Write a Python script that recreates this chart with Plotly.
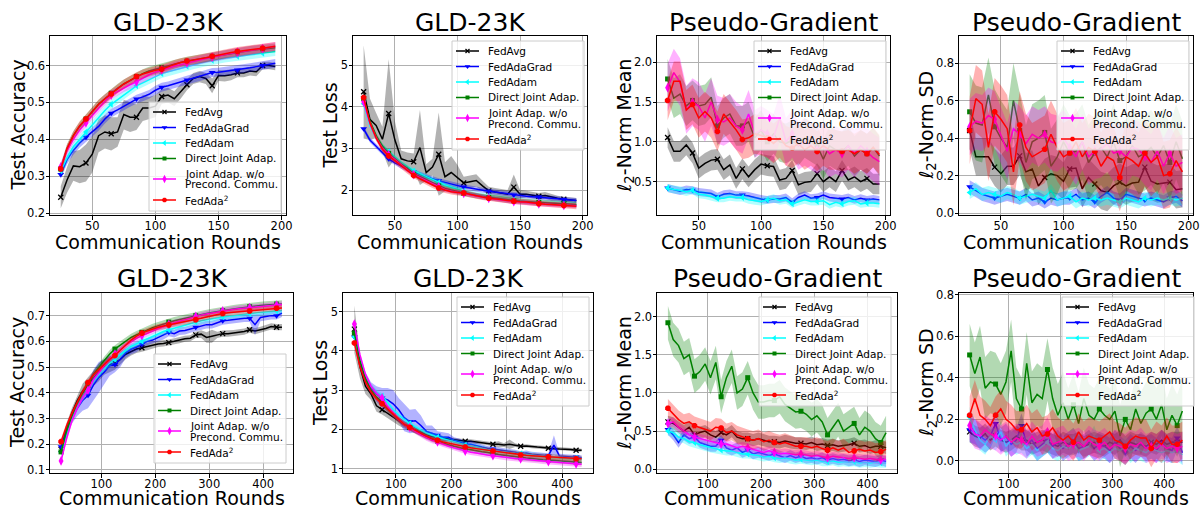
import plotly.graph_objects as go

W, H = 1201, 507

# communication rounds (x values)
rounds_200 = [25, 30, 35, 40, 45, 50, 55, 60, 65, 70, 75, 80, 85, 90, 95, 100, 105, 110, 115, 120,
              125, 130, 135, 140, 145, 150, 155, 160, 165, 170, 175, 180, 185, 190, 195]
rounds_450 = [25, 35, 45, 55, 65, 75, 85, 95, 105, 115, 125, 135, 145, 155, 165, 175, 185, 195, 205, 215,
              225, 235, 245, 255, 265, 275, 285, 295, 305, 315, 325, 335, 345, 355, 365, 375, 385, 395,
              405, 415, 425, 435]

methods = ['avg', 'adagrad', 'adam', 'direct', 'joint', 'ada2']
method_names = ['FedAvg', 'FedAdaGrad', 'FedAdam', 'Direct Joint Adap.',
                ['Joint Adap. w/o', 'Precond. Commu.'], 'FedAda<sup>2</sup>']

# ---- top row: test accuracy ----
acc1_avg = [0.243, 0.29, 0.328, 0.326, 0.336, 0.36, 0.41, 0.42, 0.415, 0.42, 0.467, 0.46, 0.46, 0.485, 0.485,
            0.49, 0.516, 0.52, 0.51, 0.53, 0.548, 0.565, 0.57, 0.565, 0.545, 0.573, 0.572, 0.575, 0.58, 0.58,
            0.585, 0.583, 0.6, 0.6, 0.597]
acc1_adagrad = [0.305, 0.345, 0.37, 0.39, 0.406, 0.42, 0.435, 0.455, 0.471, 0.48, 0.49, 0.5, 0.509, 0.515, 0.522,
                0.533, 0.541, 0.545, 0.55, 0.555, 0.561, 0.566, 0.57, 0.575, 0.581, 0.582, 0.584, 0.586, 0.588,
                0.59, 0.594, 0.597, 0.6, 0.603, 0.606]
acc1_adam = [0.315, 0.35, 0.38, 0.4, 0.42, 0.44, 0.46, 0.478, 0.495, 0.508, 0.52, 0.533, 0.545, 0.553, 0.562,
             0.57, 0.578, 0.583, 0.588, 0.593, 0.598, 0.602, 0.606, 0.61, 0.614, 0.617, 0.62, 0.622, 0.625,
             0.627, 0.629, 0.631, 0.633, 0.636, 0.638]
acc1_direct = [0.32, 0.375, 0.41, 0.435, 0.455, 0.475, 0.495, 0.51, 0.525, 0.538, 0.55, 0.56, 0.57, 0.578, 0.585,
               0.59, 0.595, 0.6, 0.604, 0.608, 0.612, 0.615, 0.618, 0.622, 0.625, 0.628, 0.631, 0.634, 0.637,
               0.639, 0.641, 0.643, 0.645, 0.647, 0.648]
acc1_joint = [0.325, 0.37, 0.4, 0.425, 0.445, 0.465, 0.485, 0.503, 0.52, 0.53, 0.54, 0.548, 0.556, 0.566, 0.575,
              0.582, 0.588, 0.593, 0.598, 0.602, 0.607, 0.611, 0.615, 0.619, 0.623, 0.626, 0.629, 0.633, 0.636,
              0.638, 0.64, 0.643, 0.646, 0.649, 0.652]
acc1_ada2 = [0.32, 0.375, 0.41, 0.437, 0.455, 0.476, 0.495, 0.51, 0.523, 0.537, 0.55, 0.56, 0.57, 0.577, 0.583,
             0.587, 0.59, 0.597, 0.603, 0.608, 0.612, 0.615, 0.618, 0.621, 0.625, 0.628, 0.632, 0.635, 0.638,
             0.641, 0.643, 0.645, 0.647, 0.65, 0.652]
acc1_avg_sd = [0.03, 0.035, 0.04, 0.045, 0.05, 0.05, 0.045, 0.045, 0.045, 0.04, 0.04, 0.04, 0.035, 0.035, 0.03,
               0.03, 0.02, 0.02, 0.02, 0.02, 0.015, 0.015, 0.015, 0.015, 0.02, 0.015, 0.015, 0.015, 0.012,
               0.012, 0.012, 0.012, 0.01, 0.01, 0.01]
acc1_sd = {'avg': acc1_avg_sd, 'adagrad': 0.012, 'adam': 0.012, 'direct': 0.012, 'joint': 0.012, 'ada2': 0.012}

# ---- top row: test loss ----
loss1_avg = [4.36, 3.7, 3.55, 3.22, 3.84, 3.2, 2.75, 2.7, 2.68, 3.02, 2.42, 2.55, 2.86, 2.32, 2.42, 2.3, 2.17,
             2.2, 2.23, 2.1, 1.98, 1.95, 1.92, 1.9, 2.07, 1.9, 1.9, 1.88, 1.85, 1.87, 1.83, 1.8, 1.78, 1.76, 1.75]
loss1_adagrad = [3.47, 3.2, 3.05, 2.9, 2.75, 2.65, 2.57, 2.5, 2.43, 2.38, 2.32, 2.27, 2.22, 2.18, 2.14, 2.1,
                 2.07, 2.05, 2.02, 1.99, 1.97, 1.95, 1.93, 1.91, 1.88, 1.87, 1.85, 1.84, 1.83, 1.81, 1.8, 1.79,
                 1.77, 1.76, 1.75]
loss1_adam = [4.07, 3.55, 3.25, 3.05, 2.92, 2.78, 2.65, 2.55, 2.46, 2.39, 2.32, 2.25, 2.18, 2.12, 2.07, 2.02,
              1.97, 1.93, 1.9, 1.87, 1.84, 1.82, 1.8, 1.78, 1.76, 1.74, 1.73, 1.71, 1.7, 1.69, 1.68, 1.67, 1.66,
              1.65, 1.64]
loss1_direct = [4.2, 3.65, 3.3, 3.05, 2.88, 2.74, 2.62, 2.52, 2.38, 2.32, 2.25, 2.17, 2.1, 2.04, 2.0, 1.96,
                1.92, 1.89, 1.86, 1.84, 1.82, 1.8, 1.78, 1.76, 1.74, 1.73, 1.72, 1.71, 1.7, 1.69, 1.68, 1.67,
                1.66, 1.655, 1.65]
loss1_joint = [4.12, 3.6, 3.25, 3.0, 2.85, 2.72, 2.6, 2.48, 2.37, 2.3, 2.23, 2.15, 2.08, 2.01, 1.97, 1.94,
               1.92, 1.89, 1.86, 1.83, 1.8, 1.78, 1.76, 1.74, 1.72, 1.71, 1.7, 1.68, 1.67, 1.66, 1.65, 1.64,
               1.63, 1.625, 1.62]
loss1_ada2 = [4.22, 3.62, 3.25, 2.98, 2.82, 2.7, 2.58, 2.46, 2.35, 2.27, 2.2, 2.12, 2.05, 2.0, 1.96, 1.94, 1.93,
              1.9, 1.86, 1.83, 1.8, 1.79, 1.77, 1.75, 1.73, 1.72, 1.71, 1.69, 1.67, 1.66, 1.65, 1.64, 1.63, 1.62,
              1.61]
loss1_avg_sd = [1.12, 0.5, 0.3, 0.3, 1.3, 0.45, 0.2, 0.2, 0.2, 0.9, 0.2, 0.2, 1.0, 0.35, 0.4, 0.3, 0.15, 0.15,
                0.15, 0.12, 0.1, 0.1, 0.1, 0.1, 0.3, 0.1, 0.08, 0.08, 0.08, 0.08, 0.08, 0.06, 0.06, 0.06, 0.06]
loss1_sd = {'avg': loss1_avg_sd, 'adagrad': 0.06, 'adam': 0.06, 'direct': 0.07, 'joint': 0.06, 'ada2': 0.07}

# ---- top row: pseudo-gradient l2-norm mean ----
mean1_avg = [1.054, 0.88, 0.88, 0.96, 0.86, 0.67, 0.73, 0.77, 0.78, 0.65, 0.71, 0.54, 0.66, 0.56, 0.65, 0.72,
             0.70, 0.69, 0.52, 0.54, 0.64, 0.46, 0.49, 0.5, 0.6, 0.5, 0.56, 0.5, 0.64, 0.52, 0.56, 0.5, 0.54,
             0.47, 0.47]
mean1_adagrad = [0.42, 0.4, 0.38, 0.4, 0.39, 0.37, 0.36, 0.35, 0.31, 0.34, 0.35, 0.33, 0.33, 0.32, 0.3, 0.28,
                 0.27, 0.28, 0.28, 0.3, 0.24, 0.3, 0.33, 0.29, 0.3, 0.33, 0.3, 0.29, 0.28, 0.3, 0.27, 0.29, 0.27,
                 0.28, 0.27]
mean1_adam = [0.42, 0.4, 0.39, 0.37, 0.39, 0.34, 0.33, 0.31, 0.29, 0.29, 0.31, 0.3, 0.3, 0.27, 0.26, 0.25, 0.27,
              0.29, 0.26, 0.27, 0.22, 0.25, 0.27, 0.25, 0.25, 0.26, 0.21, 0.24, 0.22, 0.25, 0.26, 0.22, 0.23,
              0.23, 0.22]
mean1_direct = [1.79, 1.55, 1.6, 1.45, 1.52, 1.45, 1.47, 1.56, 1.2, 1.3, 1.35, 1.2, 1.2, 1.25, 1.05, 1.15, 1.0,
                1.1, 1.0, 0.98, 1.02, 0.95, 1.05, 1.0, 0.95, 0.78, 0.95, 0.9, 0.88, 0.95, 0.82, 0.9, 0.85,
                0.93, 0.82]
mean1_joint = [1.68, 1.87, 1.75, 1.4, 1.5, 1.45, 1.3, 1.5, 1.28, 1.25, 1.3, 1.2, 1.15, 1.35, 1.1, 1.15, 1.1,
               1.05, 1.3, 1.0, 1.1, 0.95, 1.0, 0.95, 0.9, 0.95, 0.85, 0.9, 0.85, 0.95, 0.85, 0.95, 0.88, 0.8,
               0.75]
mean1_ada2 = [1.52, 1.76, 1.76, 1.4, 1.47, 1.3, 1.38, 1.3, 1.13, 1.35, 1.25, 1.15, 1.03, 1.05, 1.1, 1.08, 1.05,
              0.98, 1.05, 0.95, 0.92, 0.98, 0.9, 0.95, 0.88, 0.95, 0.9, 0.9, 0.88, 0.9, 0.85, 0.9, 0.85, 0.93,
              0.84]
mean1_sd = {'avg': 0.13, 'adagrad': 0.05, 'adam': 0.05, 'direct': 0.25, 'joint': 0.3, 'ada2': 0.25}

# ---- top row: pseudo-gradient l2-norm SD ----
sd1_avg = [0.44, 0.3, 0.3, 0.3, 0.245, 0.21, 0.25, 0.25, 0.305, 0.22, 0.235, 0.145, 0.19, 0.21, 0.2, 0.17,
           0.235, 0.24, 0.13, 0.19, 0.155, 0.12, 0.11, 0.145, 0.165, 0.145, 0.16, 0.165, 0.245, 0.17, 0.155,
           0.16, 0.165, 0.125, 0.13]
sd1_adagrad = [0.14, 0.12, 0.1, 0.09, 0.08, 0.09, 0.1, 0.09, 0.08, 0.1, 0.07, 0.08, 0.06, 0.08, 0.07, 0.08,
               0.08, 0.1, 0.07, 0.08, 0.06, 0.09, 0.11, 0.08, 0.07, 0.1, 0.09, 0.08, 0.07, 0.08, 0.07, 0.06,
               0.08, 0.09, 0.065]
sd1_adam = [0.11, 0.13, 0.1, 0.11, 0.1, 0.09, 0.11, 0.1, 0.08, 0.09, 0.1, 0.09, 0.08, 0.12, 0.07, 0.08, 0.09,
            0.06, 0.08, 0.07, 0.08, 0.07, 0.08, 0.07, 0.06, 0.08, 0.07, 0.06, 0.08, 0.07, 0.08, 0.07, 0.08,
            0.07, 0.08]
sd1_direct = [0.54, 0.48, 0.47, 0.63, 0.46, 0.4, 0.35, 0.6, 0.44, 0.27, 0.38, 0.4, 0.43, 0.25, 0.3, 0.38, 0.32,
              0.33, 0.38, 0.27, 0.32, 0.35, 0.3, 0.38, 0.28, 0.3, 0.36, 0.3, 0.32, 0.35, 0.3, 0.36, 0.27, 0.38,
              0.29]
sd1_joint = [0.46, 0.49, 0.48, 0.52, 0.5, 0.42, 0.33, 0.45, 0.42, 0.37, 0.42, 0.4, 0.42, 0.38, 0.37, 0.4, 0.35,
             0.3, 0.38, 0.3, 0.33, 0.34, 0.37, 0.32, 0.33, 0.3, 0.35, 0.34, 0.3, 0.27, 0.33, 0.25, 0.32, 0.25,
             0.27]
sd1_ada2 = [0.44, 0.61, 0.58, 0.35, 0.54, 0.5, 0.45, 0.22, 0.47, 0.35, 0.3, 0.32, 0.34, 0.42, 0.35, 0.3, 0.32,
            0.38, 0.3, 0.35, 0.33, 0.25, 0.3, 0.28, 0.19, 0.3, 0.28, 0.25, 0.32, 0.27, 0.3, 0.2, 0.21, 0.28,
            0.22]
sd1_sd = {'avg': 0.1, 'adagrad': 0.035, 'adam': 0.035, 'direct': 0.2, 'joint': 0.15, 'ada2': 0.18}

# ---- bottom row: test accuracy ----
acc2_avg = [0.18, 0.26, 0.32, 0.37, 0.405, 0.43, 0.455, 0.48, 0.5, 0.51, 0.515, 0.53, 0.55, 0.56, 0.57, 0.575,
            0.58, 0.585, 0.59, 0.592, 0.595, 0.6, 0.605, 0.61, 0.612, 0.625, 0.628, 0.615, 0.62, 0.625, 0.63,
            0.63, 0.632, 0.635, 0.638, 0.645, 0.64, 0.645, 0.65, 0.658, 0.655, 0.655]
acc2_adagrad = [0.19, 0.25, 0.3, 0.34, 0.37, 0.39, 0.43, 0.46, 0.48, 0.505, 0.51, 0.53, 0.555, 0.57, 0.578, 0.59,
                0.6, 0.605, 0.615, 0.622, 0.635, 0.63, 0.64, 0.642, 0.648, 0.655, 0.66, 0.665, 0.665, 0.672,
                0.68, 0.682, 0.685, 0.688, 0.69, 0.69, 0.665, 0.693, 0.697, 0.7, 0.7, 0.71]
acc2_adam = [0.17, 0.24, 0.3, 0.345, 0.38, 0.41, 0.445, 0.47, 0.495, 0.515, 0.53, 0.548, 0.565, 0.58, 0.59, 0.6,
             0.61, 0.62, 0.63, 0.638, 0.645, 0.651, 0.657, 0.663, 0.67, 0.675, 0.68, 0.684, 0.688, 0.692, 0.695,
             0.698, 0.7, 0.703, 0.705, 0.708, 0.71, 0.712, 0.714, 0.716, 0.718, 0.72]
acc2_direct = [0.17, 0.25, 0.31, 0.36, 0.4, 0.43, 0.47, 0.5, 0.525, 0.55, 0.57, 0.585, 0.6, 0.615, 0.625, 0.635,
               0.645, 0.653, 0.66, 0.667, 0.675, 0.68, 0.685, 0.69, 0.695, 0.7, 0.705, 0.708, 0.712, 0.716, 0.72,
               0.723, 0.726, 0.729, 0.732, 0.735, 0.737, 0.739, 0.741, 0.743, 0.745, 0.745]
acc2_joint = [0.135, 0.22, 0.29, 0.34, 0.38, 0.41, 0.45, 0.48, 0.505, 0.53, 0.55, 0.568, 0.585, 0.6, 0.612, 0.622,
              0.632, 0.642, 0.65, 0.658, 0.666, 0.672, 0.678, 0.684, 0.69, 0.697, 0.702, 0.706, 0.71, 0.714,
              0.718, 0.721, 0.724, 0.727, 0.729, 0.731, 0.733, 0.735, 0.737, 0.739, 0.741, 0.743]
acc2_ada2 = [0.21, 0.27, 0.32, 0.365, 0.405, 0.44, 0.47, 0.49, 0.51, 0.53, 0.545, 0.565, 0.585, 0.605, 0.62,
             0.632, 0.64, 0.648, 0.655, 0.66, 0.664, 0.668, 0.672, 0.676, 0.68, 0.684, 0.69, 0.695, 0.7, 0.704,
             0.708, 0.711, 0.713, 0.715, 0.717, 0.718, 0.721, 0.723, 0.725, 0.727, 0.729, 0.73]
acc2_avg_sd = [0.02, 0.02, 0.02, 0.02, 0.03, 0.03, 0.03, 0.035, 0.03, 0.03, 0.025, 0.02, 0.02, 0.015, 0.015,
               0.015, 0.015, 0.015, 0.012, 0.012, 0.012, 0.012, 0.012, 0.012, 0.012, 0.012, 0.015, 0.02, 0.025,
               0.012, 0.012, 0.012, 0.012, 0.012, 0.012, 0.012, 0.012, 0.012, 0.012, 0.012, 0.012, 0.012]
acc2_adagrad_sd = [0.02, 0.02, 0.02, 0.03, 0.04, 0.05, 0.06, 0.06, 0.05, 0.04, 0.03, 0.03, 0.02, 0.02, 0.02,
                   0.015, 0.015, 0.015, 0.015, 0.015, 0.015, 0.015, 0.015, 0.015, 0.015, 0.015, 0.015, 0.015,
                   0.015, 0.015, 0.015, 0.015, 0.015, 0.015, 0.015, 0.015, 0.04, 0.015, 0.015, 0.015, 0.015, 0.015]
acc2_sd = {'avg': acc2_avg_sd, 'adagrad': acc2_adagrad_sd, 'adam': 0.012, 'direct': 0.015, 'joint': 0.012,
           'ada2': 0.012}

# ---- bottom row: test loss ----
loss2_avg = [4.55, 3.6, 3.1, 2.9, 2.6, 2.5, 2.4, 2.3, 2.2, 2.12, 2.05, 1.98, 1.92, 1.86, 1.82, 1.8, 1.77, 1.75,
             1.73, 1.72, 1.7, 1.7, 1.68, 1.67, 1.65, 1.62, 1.62, 1.6, 1.62, 1.6, 1.57, 1.58, 1.56, 1.55, 1.54,
             1.52, 1.51, 1.5, 1.5, 1.49, 1.47, 1.47]
loss2_adagrad = [4.35, 3.75, 3.3, 3.05, 2.9, 2.8, 2.75, 2.65, 2.5, 2.3, 2.2, 2.22, 2.1, 1.95, 1.9, 1.85, 1.8,
                 1.8, 1.72, 1.68, 1.62, 1.62, 1.58, 1.55, 1.52, 1.5, 1.48, 1.46, 1.44, 1.42, 1.38, 1.4, 1.37,
                 1.36, 1.35, 1.33, 1.6, 1.32, 1.31, 1.3, 1.3, 1.28]
loss2_adam = [4.35, 3.8, 3.35, 3.1, 2.95, 2.85, 2.68, 2.5, 2.36, 2.25, 2.15, 2.06, 1.98, 1.9, 1.85, 1.8, 1.76,
              1.72, 1.68, 1.64, 1.6, 1.57, 1.55, 1.52, 1.49, 1.45, 1.44, 1.42, 1.41, 1.39, 1.38, 1.36, 1.35, 1.33,
              1.32, 1.3, 1.3, 1.29, 1.28, 1.27, 1.27, 1.25]
loss2_direct = [4.45, 3.75, 3.3, 3.0, 2.82, 2.7, 2.52, 2.38, 2.24, 2.13, 2.05, 1.96, 1.88, 1.81, 1.75, 1.7, 1.65,
                1.61, 1.57, 1.53, 1.5, 1.48, 1.45, 1.43, 1.41, 1.38, 1.36, 1.34, 1.32, 1.3, 1.28, 1.27, 1.26,
                1.24, 1.23, 1.22, 1.21, 1.2, 1.19, 1.18, 1.17, 1.16]
loss2_joint = [4.68, 3.9, 3.4, 3.1, 2.92, 2.8, 2.58, 2.4, 2.25, 2.13, 2.05, 1.95, 1.86, 1.78, 1.72, 1.68, 1.62,
               1.57, 1.53, 1.49, 1.45, 1.42, 1.4, 1.37, 1.35, 1.33, 1.31, 1.29, 1.27, 1.26, 1.25, 1.23, 1.22,
               1.21, 1.19, 1.18, 1.17, 1.16, 1.15, 1.14, 1.12, 1.11]
loss2_ada2 = [4.2, 3.6, 3.2, 2.95, 2.78, 2.65, 2.5, 2.38, 2.24, 2.13, 2.05, 1.97, 1.9, 1.83, 1.77, 1.72, 1.68,
              1.65, 1.62, 1.58, 1.55, 1.53, 1.51, 1.49, 1.47, 1.45, 1.43, 1.41, 1.39, 1.37, 1.35, 1.34, 1.33,
              1.32, 1.31, 1.3, 1.29, 1.28, 1.27, 1.26, 1.25, 1.25]
loss2_avg_sd = [0.6, 0.3, 0.2, 0.15, 0.15, 0.12, 0.1, 0.1, 0.1, 0.1, 0.1, 0.08, 0.08, 0.1, 0.08, 0.06, 0.06,
                0.05, 0.05, 0.05, 0.05, 0.05, 0.05, 0.05, 0.05, 0.05, 0.08, 0.05, 0.12, 0.05, 0.04, 0.04, 0.04,
                0.04, 0.04, 0.04, 0.04, 0.04, 0.04, 0.04, 0.04, 0.04]
loss2_adagrad_sd = [0.15, 0.15, 0.15, 0.15, 0.2, 0.25, 0.3, 0.35, 0.3, 0.35, 0.3, 0.3, 0.25, 0.15, 0.2, 0.1,
                    0.12, 0.1, 0.08, 0.08, 0.08, 0.1, 0.08, 0.06, 0.06, 0.06, 0.06, 0.06, 0.06, 0.06, 0.06, 0.06,
                    0.06, 0.06, 0.06, 0.06, 0.25, 0.06, 0.06, 0.06, 0.06, 0.06]
loss2_sd = {'avg': loss2_avg_sd, 'adagrad': loss2_adagrad_sd, 'adam': 0.07, 'direct': 0.07, 'joint': 0.07,
            'ada2': 0.07}

# ---- bottom row: pseudo-gradient l2-norm mean ----
mean2_avg = [0.62, 0.6, 0.55, 0.5, 0.55, 0.45, 0.48, 0.5, 0.45, 0.42, 0.48, 0.45, 0.5, 0.42, 0.4, 0.4, 0.38,
             0.4, 0.38, 0.36, 0.36, 0.35, 0.37, 0.35, 0.34, 0.34, 0.33, 0.35, 0.32, 0.33, 0.31, 0.32, 0.3, 0.31,
             0.32, 0.34, 0.3, 0.31, 0.28, 0.3, 0.3, 0.28]
mean2_adagrad = [0.52, 0.45, 0.35, 0.45, 0.4, 0.42, 0.35, 0.32, 0.3, 0.3, 0.38, 0.28, 0.25, 0.28, 0.22, 0.25,
                 0.2, 0.22, 0.2, 0.18, 0.2, 0.17, 0.15, 0.18, 0.15, 0.17, 0.14, 0.15, 0.13, 0.15, 0.12, 0.14,
                 0.12, 0.13, 0.11, 0.12, 0.1, 0.12, 0.11, 0.1, 0.12, 0.1]
mean2_adam = [0.5, 0.48, 0.42, 0.4, 0.36, 0.35, 0.32, 0.3, 0.28, 0.27, 0.25, 0.24, 0.24, 0.22, 0.2, 0.2, 0.19,
              0.18, 0.16, 0.17, 0.15, 0.14, 0.15, 0.13, 0.12, 0.13, 0.12, 0.11, 0.12, 0.1, 0.1, 0.11, 0.09, 0.1,
              0.09, 0.1, 0.08, 0.09, 0.08, 0.09, 0.08, 0.08]
mean2_direct = [1.92, 1.7, 1.62, 1.45, 1.5, 1.22, 1.28, 1.38, 1.2, 1.4, 0.95, 1.2, 1.35, 1.0, 1.05, 1.2, 1.0,
                0.88, 0.88, 0.9, 0.9, 0.95, 0.85, 0.8, 0.75, 0.76, 0.72, 0.65, 0.7, 0.62, 0.45, 0.55, 0.65, 0.5,
                0.55, 0.6, 0.45, 0.55, 0.5, 0.4, 0.35, 0.48]
mean2_joint = [0.6, 0.62, 0.55, 0.5, 0.45, 0.42, 0.4, 0.38, 0.36, 0.35, 0.33, 0.33, 0.3, 0.28, 0.3, 0.28, 0.26,
               0.25, 0.22, 0.24, 0.22, 0.2, 0.21, 0.2, 0.19, 0.2, 0.18, 0.17, 0.18, 0.16, 0.15, 0.17, 0.16, 0.15,
               0.14, 0.15, 0.14, 0.13, 0.14, 0.13, 0.12, 0.13]
mean2_ada2 = [0.8, 0.72, 0.65, 0.6, 0.62, 0.57, 0.55, 0.53, 0.5, 0.55, 0.54, 0.48, 0.5, 0.45, 0.42, 0.4, 0.38,
              0.4, 0.36, 0.38, 0.35, 0.33, 0.35, 0.32, 0.3, 0.3, 0.3, 0.28, 0.3, 0.27, 0.25, 0.28, 0.25, 0.28,
              0.22, 0.24, 0.26, 0.24, 0.25, 0.22, 0.23, 0.26]
mean2_sd = {'avg': 0.08, 'adagrad': 0.07, 'adam': 0.06, 'direct': 0.22, 'joint': 0.06, 'ada2': 0.12}

# ---- bottom row: pseudo-gradient l2-norm SD ----
sd2_avg = [0.14, 0.12, 0.11, 0.13, 0.1, 0.12, 0.1, 0.09, 0.1, 0.12, 0.1, 0.1, 0.08, 0.09, 0.1, 0.09, 0.08, 0.07,
           0.09, 0.08, 0.08, 0.09, 0.07, 0.08, 0.09, 0.08, 0.07, 0.09, 0.08, 0.1, 0.07, 0.09, 0.08, 0.08, 0.07,
           0.09, 0.08, 0.1, 0.08, 0.09, 0.09, 0.09]
sd2_adagrad = [0.15, 0.14, 0.12, 0.1, 0.12, 0.18, 0.1, 0.12, 0.08, 0.1, 0.17, 0.08, 0.1, 0.06, 0.08, 0.1, 0.07,
               0.09, 0.06, 0.08, 0.1, 0.06, 0.07, 0.09, 0.06, 0.08, 0.07, 0.05, 0.09, 0.06, 0.04, 0.07, 0.05,
               0.08, 0.06, 0.07, 0.05, 0.09, 0.06, 0.05, 0.11, 0.04]
sd2_adam = [0.21, 0.15, 0.1, 0.08, 0.12, 0.1, 0.14, 0.07, 0.1, 0.08, 0.09, 0.06, 0.08, 0.05, 0.07, 0.09, 0.06,
            0.05, 0.07, 0.06, 0.08, 0.05, 0.06, 0.07, 0.12, 0.05, 0.06, 0.04, 0.06, 0.05, 0.07, 0.04, 0.06, 0.05,
            0.04, 0.06, 0.05, 0.04, 0.05, 0.04, 0.05, 0.03]
sd2_direct = [0.51, 0.42, 0.5, 0.35, 0.38, 0.37, 0.32, 0.38, 0.53, 0.3, 0.25, 0.47, 0.28, 0.32, 0.3, 0.44, 0.3,
              0.22, 0.28, 0.2, 0.27, 0.18, 0.3, 0.22, 0.2, 0.25, 0.22, 0.2, 0.24, 0.12, 0.2, 0.15, 0.25, 0.18,
              0.23, 0.25, 0.2, 0.27, 0.15, 0.22, 0.17, 0.24]
sd2_joint = [0.17, 0.13, 0.12, 0.15, 0.13, 0.12, 0.1, 0.12, 0.09, 0.11, 0.1, 0.08, 0.12, 0.09, 0.1, 0.14, 0.08,
             0.09, 0.1, 0.07, 0.08, 0.09, 0.07, 0.1, 0.08, 0.07, 0.09, 0.06, 0.08, 0.07, 0.06, 0.08, 0.07, 0.09,
             0.06, 0.07, 0.06, 0.08, 0.06, 0.07, 0.06, 0.07]
sd2_ada2 = [0.22, 0.3, 0.22, 0.2, 0.17, 0.22, 0.25, 0.2, 0.18, 0.15, 0.15, 0.18, 0.14, 0.16, 0.12, 0.13, 0.16,
            0.12, 0.1, 0.12, 0.09, 0.14, 0.1, 0.12, 0.11, 0.1, 0.12, 0.14, 0.1, 0.09, 0.07, 0.1, 0.12, 0.11, 0.11,
            0.06, 0.1, 0.08, 0.12, 0.08, 0.08, 0.1]
sd2_sd = {'avg': 0.05, 'adagrad': 0.06, 'adam': 0.05, 'direct': 0.15, 'joint': 0.07, 'ada2': 0.09}


def series(prefix):
    g = globals()
    return {m: g[prefix + '_' + m] for m in methods}


# styling per method
STYLE = {
    'avg': dict(color='#000000', fill='rgba(0,0,0,0.3)', symbol='x-thin', size=5),
    'adagrad': dict(color='#0000ff', fill='rgba(0,0,255,0.3)', symbol='triangle-down', size=6),
    'adam': dict(color='#00ffff', fill='rgba(0,255,255,0.3)', symbol='triangle-left', size=6),
    'direct': dict(color='#008000', fill='rgba(0,128,0,0.3)', symbol='square', size=5),
    'joint': dict(color='#ff00ff', fill='rgba(255,0,255,0.3)', symbol='diamond-tall', size=7),
    'ada2': dict(color='#ff0000', fill='rgba(255,0,0,0.3)', symbol='octagon', size=6),
}

# box = (left, top, right, bottom) of the plot area in px, leg = (left, top) of the legend box
panels = [
    dict(box=(50, 36, 286, 215), x=rounds_200, every=4, data=series('acc1'), sd=acc1_sd,
         xr=[16.5, 203.5], yr=[0.195, 0.68], xt=[50, 100, 150, 200], yt=[0.2, 0.3, 0.4, 0.5, 0.6], yf='.1f',
         title='GLD-23K', ytitle='Test Accuracy', ytx=17, leg=(149, 102)),
    dict(box=(353, 36, 587, 215), x=rounds_200, every=4, data=series('loss1'), sd=loss1_sd,
         xr=[16.5, 203.5], yr=[1.4, 5.7], xt=[50, 100, 150, 200], yt=[2, 3, 4, 5], yf='d',
         title='GLD-23K', ytitle='Test Loss', ytx=329, leg=(452, 41)),
    dict(box=(657, 36, 890, 215), x=rounds_200, every=4, data=series('mean1'), sd=mean1_sd,
         xr=[16.5, 203.5], yr=[0.08, 2.33], xt=[50, 100, 150, 200], yt=[0.5, 1.0, 1.5, 2.0], yf='.1f',
         title='Pseudo-Gradient', ytitle='<i>ℓ</i><sub>2</sub>-Norm Mean', ytx=625, leg=(754, 41)),
    dict(box=(959, 36, 1193, 215), x=rounds_200, every=4, data=series('sd1'), sd=sd1_sd,
         xr=[16.5, 203.5], yr=[-0.01, 0.944], xt=[50, 100, 150, 200], yt=[0.0, 0.2, 0.4, 0.6, 0.8], yf='.1f',
         title='Pseudo-Gradient', ytitle='<i>ℓ</i><sub>2</sub>-Norm SD', ytx=927, leg=(1057, 41)),
    dict(box=(50, 293, 293, 473), x=rounds_450, every=5, data=series('acc2'), sd=acc2_sd,
         xr=[4.5, 455.5], yr=[0.088, 0.788], xt=[100, 200, 300, 400], yt=[0.1, 0.2, 0.3, 0.4, 0.5, 0.6, 0.7],
         yf='.1f', title='GLD-23K', ytitle='Test Accuracy', ytx=17, leg=(154, 354)),
    dict(box=(343, 293, 593, 473), x=rounds_450, every=5, data=series('loss2'), sd=loss2_sd,
         xr=[4.5, 455.5], yr=[0.89, 5.47], xt=[100, 200, 300, 400], yt=[1, 2, 3, 4, 5], yf='d',
         title='GLD-23K', ytitle='Test Loss', ytx=320, leg=(457, 297)),
    dict(box=(657, 293, 897, 473), x=rounds_450, every=5, data=series('mean2'), sd=mean2_sd,
         xr=[4.5, 455.5], yr=[-0.05, 2.31], xt=[100, 200, 300, 400], yt=[0.0, 0.5, 1.0, 1.5, 2.0], yf='.1f',
         title='Pseudo-Gradient', ytitle='<i>ℓ</i><sub>2</sub>-Norm Mean', ytx=625, leg=(759, 297)),
    dict(box=(959, 293, 1193, 473), x=rounds_450, every=5, data=series('sd2'), sd=sd2_sd,
         xr=[4.5, 455.5], yr=[-0.058, 0.808], xt=[100, 200, 300, 400], yt=[0.0, 0.2, 0.4, 0.6, 0.8], yf='.1f',
         title='Pseudo-Gradient', ytitle='<i>ℓ</i><sub>2</sub>-Norm SD', ytx=927, leg=(1062, 297)),
]

FONT = 'DejaVu Sans, Arial, sans-serif'
LEG_W, LEG_H = 132, 109
LEG_ROWS = [10, 25.5, 41, 56.5, 77, 98]   # row centres below the legend box top, px


def fx(px):
    return px / W


def fy(py):
    return 1 - py / H


fig = go.Figure()
annotations = []
layout = {}


def ann(text, px, py, size, **kw):
    annotations.append(dict(text=text, x=fx(px), y=fy(py), xref='paper', yref='paper', showarrow=False,
                            font=dict(family=FONT, size=size, color='black'), **kw))


legend_traces = []
for i, p in enumerate(panels, start=1):
    xa, ya = f'x{i}', f'y{i}'
    x = p['x']
    for m in methods:
        st = STYLE[m]
        y = p['data'][m]
        assert len(y) == len(x), (i, m, len(y))
        s = p['sd'][m]
        s = s if isinstance(s, list) else [s] * len(y)
        upper = [a + b for a, b in zip(y, s)]
        lower = [a - b for a, b in zip(y, s)]
        fig.add_trace(go.Scatter(x=x + x[::-1], y=upper + lower[::-1], fill='toself', fillcolor=st['fill'],
                                 line=dict(width=0), mode='lines', hoverinfo='skip', showlegend=False,
                                 xaxis=xa, yaxis=ya))
        fig.add_trace(go.Scatter(x=x, y=y, mode='lines', line=dict(color=st['color'], width=1.5),
                                 showlegend=False, xaxis=xa, yaxis=ya))
        mk = dict(symbol=st['symbol'], size=st['size'], color=st['color'],
                  line=dict(width=1.3 if m == 'avg' else 0, color=st['color']))
        fig.add_trace(go.Scatter(x=x[::p['every']], y=y[::p['every']], mode='markers', marker=mk,
                                 showlegend=False, xaxis=xa, yaxis=ya))

    x0, y0, x1, y1 = p['box']
    axis_common = dict(showline=True, linecolor='black', linewidth=1, mirror=True, ticks='outside',
                       ticklen=3.5, tickcolor='black', showgrid=True, gridcolor='#b0b0b0', gridwidth=0.8,
                       zeroline=False, automargin=False, tickfont=dict(family=FONT, size=11.5, color='black'))
    layout[f'xaxis{i}'] = dict(domain=[fx(x0), fx(x1)], range=p['xr'], tickvals=p['xt'], anchor=ya,
                               ticklabelstandoff=-3, **axis_common)
    layout[f'yaxis{i}'] = dict(domain=[fy(y1), fy(y0)], range=p['yr'], tickvals=p['yt'],
                               tickformat=p['yf'], anchor=xa, ticklabelstandoff=-2, **axis_common)

    cx = (x0 + x1) / 2
    top = y0 < 100
    ann(p['title'], cx, 22 if top else 278, 25, xanchor='center', yanchor='middle')
    ann('Communication Rounds', cx, 242 if top else 498, 19, xanchor='center', yanchor='middle')
    ann(p['ytitle'], p['ytx'], (y0 + y1) / 2, 19, textangle=-90, xanchor='center', yanchor='middle')

    # legend drawn on a full-figure overlay axis (pixel coordinates)
    L, T = p['leg']
    legend_traces.append(go.Scatter(x=[L, L + LEG_W, L + LEG_W, L, L], y=[T, T, T + LEG_H, T + LEG_H, T],
                                    fill='toself', fillcolor='rgba(255,255,255,0.8)', mode='lines',
                                    line=dict(color='#cccccc', width=1), hoverinfo='skip', showlegend=False,
                                    xaxis='x9', yaxis='y9'))
    for m, name, row in zip(methods, method_names, LEG_ROWS):
        st = STYLE[m]
        ry = T + row
        legend_traces.append(go.Scatter(x=[L + 4, L + 27], y=[ry, ry], mode='lines',
                                        line=dict(color=st['color'], width=1.5), hoverinfo='skip',
                                        showlegend=False, xaxis='x9', yaxis='y9'))
        mk = dict(symbol=st['symbol'], size=st['size'] - 1, color=st['color'],
                  line=dict(width=1.2 if m == 'avg' else 0, color=st['color']))
        legend_traces.append(go.Scatter(x=[L + 15.5], y=[ry], mode='markers', marker=mk, hoverinfo='skip',
                                        showlegend=False, xaxis='x9', yaxis='y9'))
        if isinstance(name, list):
            ann(name[0], L + 34, ry - 5.5, 10.5, xanchor='left', yanchor='middle')
            ann(name[1], L + 34, ry + 5.5, 10.5, xanchor='left', yanchor='middle')
        else:
            ann(name, L + 34, ry, 10.5, xanchor='left', yanchor='middle')

for t in legend_traces:
    fig.add_trace(t)

layout['xaxis9'] = dict(domain=[0, 1], range=[0, W], visible=False, anchor='y9', automargin=False)
layout['yaxis9'] = dict(domain=[0, 1], range=[H, 0], visible=False, anchor='x9', automargin=False)

fig.update_layout(width=W, height=H, margin=dict(l=0, r=0, t=0, b=0), plot_bgcolor='rgba(0,0,0,0)',
                  paper_bgcolor='white', showlegend=False, annotations=annotations, **layout)

# drop the page's default body margin so the figure sits at the window origin
fig.write_html("out.html", config={'displayModeBar': False},
               post_script="document.body.style.margin='0px';")
